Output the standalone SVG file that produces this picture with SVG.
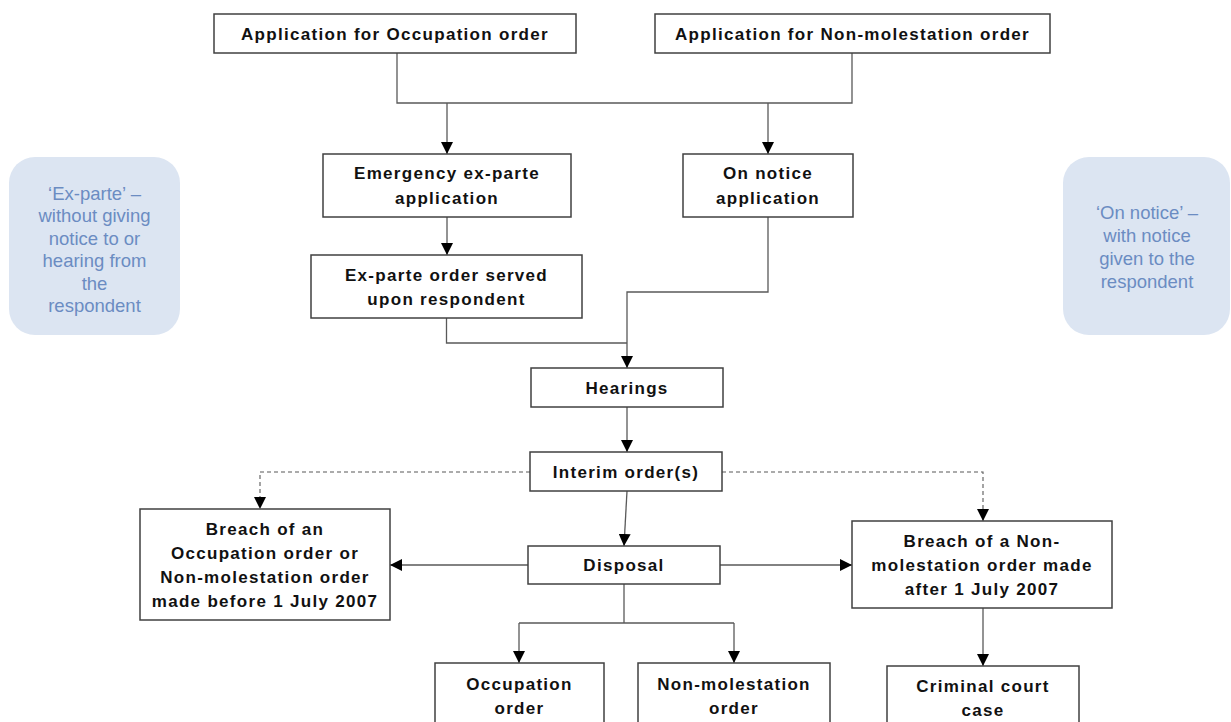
<svg xmlns="http://www.w3.org/2000/svg" width="1231" height="722" viewBox="0 0 1231 722">
<style>
.box{fill:#ffffff;stroke:#404040;stroke-width:1.5}
.t{font-family:"Liberation Sans",Arial,sans-serif;font-weight:bold;font-size:17px;letter-spacing:1.3px;fill:#111111;text-anchor:middle}
.bub{fill:#dce5f2;stroke:none}
.bt{font-family:"Liberation Sans",Arial,sans-serif;font-size:18.5px;fill:#6b8cc2;text-anchor:middle}
.c{fill:none;stroke:#595959;stroke-width:1.3}
.d{fill:none;stroke:#595959;stroke-width:1.1;stroke-dasharray:4 3}
</style>
<defs>
<marker id="ah" markerUnits="userSpaceOnUse" markerWidth="12" markerHeight="12" viewBox="0 0 12 12" refX="12" refY="6" orient="auto">
<path d="M0,0 L12,6 L0,12 Z" fill="#000000"/>
</marker>
</defs>
<rect width="1231" height="722" fill="#ffffff"/>
<g id="note-exparte">
<rect class="bub" x="9" y="157" width="171" height="178" rx="26"/>
<text class="bt" x="94.5" y="199.5">‘Ex-parte’ –</text>
<text class="bt" x="94.5" y="222">without giving</text>
<text class="bt" x="94.5" y="244.5">notice to or</text>
<text class="bt" x="94.5" y="267">hearing from</text>
<text class="bt" x="94.5" y="289.5">the</text>
<text class="bt" x="94.5" y="312">respondent</text>
</g>
<g id="note-onnotice">
<rect class="bub" x="1063" y="157" width="167" height="178" rx="26"/>
<text class="bt" x="1147" y="218.5">‘On notice’ –</text>
<text class="bt" x="1147" y="241.5">with notice</text>
<text class="bt" x="1147" y="264.5">given to the</text>
<text class="bt" x="1147" y="287.5">respondent</text>
</g>
<g id="connectors">
<path class="c" d="M397,53 V103 H852 V53"/>
<path class="c" d="M447,103 V154" marker-end="url(#ah)"/>
<path class="c" d="M768,103 V154" marker-end="url(#ah)"/>
<path class="c" d="M447,217 V255" marker-end="url(#ah)"/>
<path class="c" d="M446.5,318 V343 H627"/>
<path class="c" d="M768,217 V292 H627 V368" marker-end="url(#ah)"/>
<path class="c" d="M627,407 V452" marker-end="url(#ah)"/>
<path class="c" d="M627,491 L624,546" marker-end="url(#ah)"/>
<path class="d" d="M530,472 H260 V509" marker-end="url(#ah)"/>
<path class="d" d="M722,472 H983 V521" marker-end="url(#ah)"/>
<path class="c" d="M528,565 H390" marker-end="url(#ah)"/>
<path class="c" d="M720,565 H852" marker-end="url(#ah)"/>
<path class="c" d="M624,584 V623"/>
<path class="c" d="M519,623 H734"/>
<path class="c" d="M519,623 V663" marker-end="url(#ah)"/>
<path class="c" d="M734,623 V663" marker-end="url(#ah)"/>
<path class="c" d="M983,608 V666" marker-end="url(#ah)"/>
</g>
<g id="app-occupation">
<rect class="box" x="214" y="14" width="362" height="39"/>
<text class="t" x="395" y="40">Application for Occupation order</text>
</g>
<g id="app-nonmol">
<rect class="box" x="655" y="14" width="395" height="39"/>
<text class="t" x="852.5" y="40">Application for Non-molestation order</text>
</g>
<g id="emergency">
<rect class="box" x="323" y="154" width="248" height="63"/>
<text class="t" x="447" y="179">Emergency ex-parte</text>
<text class="t" x="447" y="204">application</text>
</g>
<g id="on-notice">
<rect class="box" x="683" y="154" width="170" height="63"/>
<text class="t" x="768" y="179">On notice</text>
<text class="t" x="768" y="204">application</text>
</g>
<g id="exparte-served">
<rect class="box" x="311" y="255" width="271" height="63"/>
<text class="t" x="446.5" y="281">Ex-parte order served</text>
<text class="t" x="446.5" y="305">upon respondent</text>
</g>
<g id="hearings">
<rect class="box" x="531" y="368" width="192" height="39"/>
<text class="t" x="627" y="394">Hearings</text>
</g>
<g id="interim">
<rect class="box" x="530" y="452" width="192" height="39"/>
<text class="t" x="626" y="478">Interim order(s)</text>
</g>
<g id="disposal">
<rect class="box" x="528" y="546" width="192" height="38"/>
<text class="t" x="624" y="571">Disposal</text>
</g>
<g id="breach-before">
<rect class="box" x="140" y="509" width="250" height="111"/>
<text class="t" x="265" y="535">Breach of an</text>
<text class="t" x="265" y="559">Occupation order or</text>
<text class="t" x="265" y="583">Non-molestation order</text>
<text class="t" x="265" y="607">made before 1 July 2007</text>
</g>
<g id="breach-after">
<rect class="box" x="852" y="521" width="260" height="87"/>
<text class="t" x="982" y="547">Breach of a Non-</text>
<text class="t" x="982" y="571">molestation order made</text>
<text class="t" x="982" y="595">after 1 July 2007</text>
</g>
<g id="occupation-order">
<rect class="box" x="435" y="663" width="169" height="70"/>
<text class="t" x="519.5" y="690">Occupation</text>
<text class="t" x="519.5" y="714">order</text>
</g>
<g id="nonmol-order">
<rect class="box" x="638" y="663" width="192" height="70"/>
<text class="t" x="734" y="690">Non-molestation</text>
<text class="t" x="734" y="714">order</text>
</g>
<g id="criminal">
<rect class="box" x="887" y="666" width="192" height="70"/>
<text class="t" x="983" y="692">Criminal court</text>
<text class="t" x="983" y="716">case</text>
</g>
</svg>
